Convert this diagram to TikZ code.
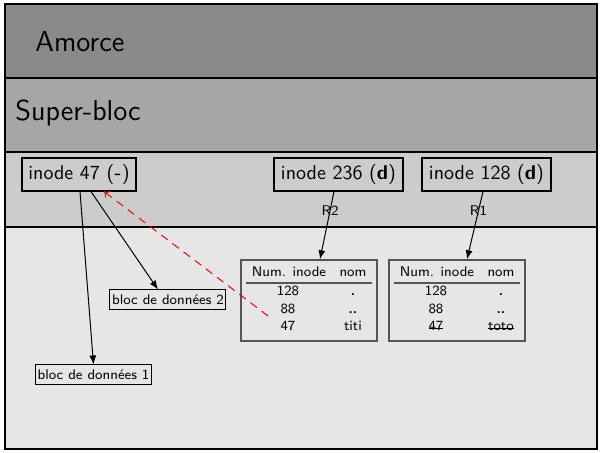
\documentclass[tikz,border=0pt]{standalone}
\usepackage{fontspec}
\renewcommand{\familydefault}{\sfdefault}
\usetikzlibrary{arrows.meta}
\newcommand{\strk}[1]{\setbox0\hbox{#1}\rlap{\rule[0.35ex]{\wd0}{0.45pt}}\box0}
\definecolor{bandA}{HTML}{8A8A8A}
\definecolor{bandB}{HTML}{A6A6A6}
\definecolor{bandC}{HTML}{CCCCCC}
\definecolor{bandD}{HTML}{E6E6E6}
\definecolor{tabgray}{HTML}{555555}
\tikzset{
  inodebox/.style={draw, line width=0.6pt, minimum height=16.5pt, inner sep=2pt, font=\normalsize},
  blocbox/.style={draw, line width=0.5pt, minimum width=58pt, minimum height=10pt, inner sep=1pt, font=\scriptsize},
  tablebox/.style={draw=tabgray, line width=0.7pt, minimum width=68pt, minimum height=40.5pt, inner sep=0pt},
  cell/.style={font=\scriptsize, inner sep=0pt, text height=5pt, text depth=0pt},
  arr/.style={-{Latex[length=4.5pt,width=3.5pt]}, line width=0.5pt},
  redarr/.style={-{To[length=2.5pt,width=4pt]}, red, dash pattern=on 4pt off 3pt, line width=0.5pt},
  bandlabel/.style={font=\Large, anchor=west, inner sep=0pt}
}
\begin{document}
\begin{tikzpicture}[x=0.5pt, y=-0.5pt]
\useasboundingbox (0,0) rectangle (602,453);
% bands
\fill[bandA] (5,4) rectangle (597,78);
\fill[bandB] (5,78) rectangle (597,152);
\fill[bandC] (5,152) rectangle (597,227);
\fill[bandD] (5,227) rectangle (597,449);
\draw[line width=0.6pt] (5,4) rectangle (597,449);
\draw[line width=0.6pt] (5,78) -- (597,78);
\draw[line width=0.6pt] (5,152) -- (597,152);
\draw[line width=0.6pt] (5,227) -- (597,227);
\node[bandlabel] (amorce) at (35,42) {Amorce};
\node[bandlabel] (superbloc) at (15,113) {Super-bloc};
% inodes
\node[inodebox, minimum width=57pt] (i47) at (79,174.5) {inode 47 (\textbf{-})};
\node[inodebox, minimum width=64.5pt] (i236) at (338.5,174.5) {inode 236 (\textbf{d})};
\node[inodebox, minimum width=64.5pt] (i128) at (486.5,174.5) {inode 128 (\textbf{d})};
% data blocks
\node[blocbox] (b2) at (168,300) {bloc de données 2};
\node[blocbox] (b1) at (93.5,375) {bloc de données 1};
% table 1
\node[tablebox] (t1) at (309,300.5) {};
\node[cell] (t1h1) at (289,272) {Num. inode};
\node[cell] (t1h2) at (353,272) {nom};
\draw[tabgray, line width=1pt] (246,283) -- (372,283);
\node[cell] (t1a1) at (288,291) {128};
\node[cell] (t1a2) at (353,291) {\textbf{.}};
\node[cell] (t1b1) at (288,308.5) {88};
\node[cell] (t1b2) at (353,308.5) {\textbf{..}};
\node[cell] (t1c1) at (288,326) {47};
\node[cell] (t1c2) at (353,326) {titi};
% table 2
\node[tablebox] (t2) at (457,300.5) {};
\node[cell] (t2h1) at (437,272) {Num. inode};
\node[cell] (t2h2) at (501,272) {nom};
\draw[tabgray, line width=1pt] (394,283) -- (520,283);
\node[cell] (t2a1) at (436,291) {128};
\node[cell] (t2a2) at (501,291) {\textbf{.}};
\node[cell] (t2b1) at (436,308.5) {88};
\node[cell] (t2b2) at (501,308.5) {\textbf{..}};
\node[cell] (t2c1) at (436,326) {\strk{47}};
\node[cell] (t2c2) at (501,326) {\strk{toto}};
% connectors
\draw[arr] ([xshift=0.5pt]i47.south) -- (b1.north);
\draw[arr] ([xshift=6pt]i47.south) -- ([xshift=-5pt]b2.north);
\draw[arr] ([xshift=-2.25pt]i236.south) -- node[cell, pos=0.28] {R2} ([xshift=5.5pt]t1.north);
\draw[arr] ([xshift=-1.75pt]i128.south) -- node[cell, pos=0.28] {R1} ([xshift=5pt]t2.north);
\coordinate (src) at (268,316);
\draw[redarr] (src) -- ([xshift=12.5pt]i47.south);
\end{tikzpicture}
\end{document}
